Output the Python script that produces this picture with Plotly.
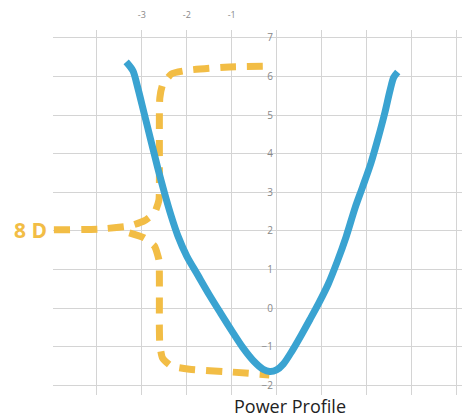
import plotly.graph_objects as go

# power profile curve
curve_x = [-3.35, -3.20, -3.10, -2.95, -2.80, -2.65, -2.50, -2.35, -2.20, -2.00, -1.75, -1.50,
           -1.25, -1.00, -0.75, -0.50, -0.30, -0.15, 0.00, 0.15, 0.35, 0.55, 0.75, 0.95,
           1.15, 1.35, 1.55, 1.75, 1.92, 2.10, 2.25, 2.41, 2.53, 2.61, 2.70]
curve_y = [6.38, 6.15, 5.75, 5.05, 4.35, 3.65, 3.00, 2.40, 1.88, 1.35, 0.85, 0.35,
           -0.12, -0.58, -1.02, -1.38, -1.58, -1.64, -1.60, -1.45, -1.10, -0.70, -0.28, 0.15,
           0.62, 1.20, 1.85, 2.60, 3.15, 3.75, 4.35, 5.05, 5.65, 5.98, 6.12]

# hand-drawn bracket, upper and lower arms
upper_x = [-4.96, -3.95, -3.28, -2.95, -2.72, -2.62, -2.61, -2.61, -2.60, -2.54, -2.34, -1.94, -1.05, -0.11]
upper_y = [2.03, 2.05, 2.13, 2.26, 2.47, 2.80, 3.20, 5.00, 5.45, 5.78, 6.07, 6.17, 6.25, 6.27]
lower_x = [-3.28, -2.95, -2.72, -2.62, -2.61, -2.61, -2.60, -2.54, -2.34, -1.94, -1.05, -0.16]
lower_y = [1.95, 1.82, 1.61, 1.25, 0.85, -0.55, -0.95, -1.29, -1.50, -1.58, -1.65, -1.73]

x_ticks = list(range(-4, 5))
x_labels = ["", "-3", "-2", "-1", "", "", "", "", ""]
y_ticks = list(range(-2, 8))

blue = "#3aa3d1"
yellow = "#f2bd45"
grid = "#d4d4d4"

fig = go.Figure()
fig.add_trace(go.Scatter(x=upper_x, y=upper_y, mode="lines",
                         line=dict(color=yellow, width=7, dash="16px,11px", shape="spline", smoothing=0.5)))
fig.add_trace(go.Scatter(x=lower_x, y=lower_y, mode="lines",
                         line=dict(color=yellow, width=7, dash="16px,11px", shape="spline", smoothing=0.5)))
fig.add_trace(go.Scatter(x=curve_x, y=curve_y, mode="lines",
                         line=dict(color=blue, width=7, shape="spline", smoothing=0.8)))

# white strip behind the y tick labels (cuts the gridlines there)
fig.add_shape(type="rect", xref="x", yref="paper", x0=-0.58, x1=-0.09, y0=0, y1=1,
              fillcolor="white", line_width=0, layer="between")

fig.add_annotation(x=-0.053, y=0.4525, xref="paper", yref="paper", text="<b>8 D</b>", showarrow=False,
                   xanchor="center", yanchor="middle",
                   font=dict(size=21, color=yellow, family="Open Sans"))
fig.add_annotation(x=0.568, y=-0.03, xref="paper", yref="paper", text="Power Profile",
                   showarrow=False, yanchor="middle",
                   font=dict(size=18, color="#222222", family="Open Sans"))

fig.update_layout(
    width=470, height=417,
    margin=dict(l=45, r=8, t=22, b=30),
    paper_bgcolor="white", plot_bgcolor="white",
    showlegend=False,
    font=dict(family="Open Sans", size=10, color="#888888"),
    xaxis=dict(range=[-4.98, 4.31], tickvals=x_ticks, ticktext=x_labels, side="top",
               showgrid=True, gridcolor=grid, gridwidth=1, zeroline=False, showline=False,
               automargin=False, ticks="", ticklabelstandoff=9,
               tickfont=dict(size=9, color="#888888")),
    yaxis=dict(range=[-2.249, 7.207], tickvals=y_ticks, anchor="free", position=0.537,
               showgrid=True, gridcolor=grid, gridwidth=1, zeroline=False, showline=False,
               automargin=False, ticks="", ticklabelstandoff=4,
               tickfont=dict(size=10, color="#888888")),
)

fig.write_html("out.html")
